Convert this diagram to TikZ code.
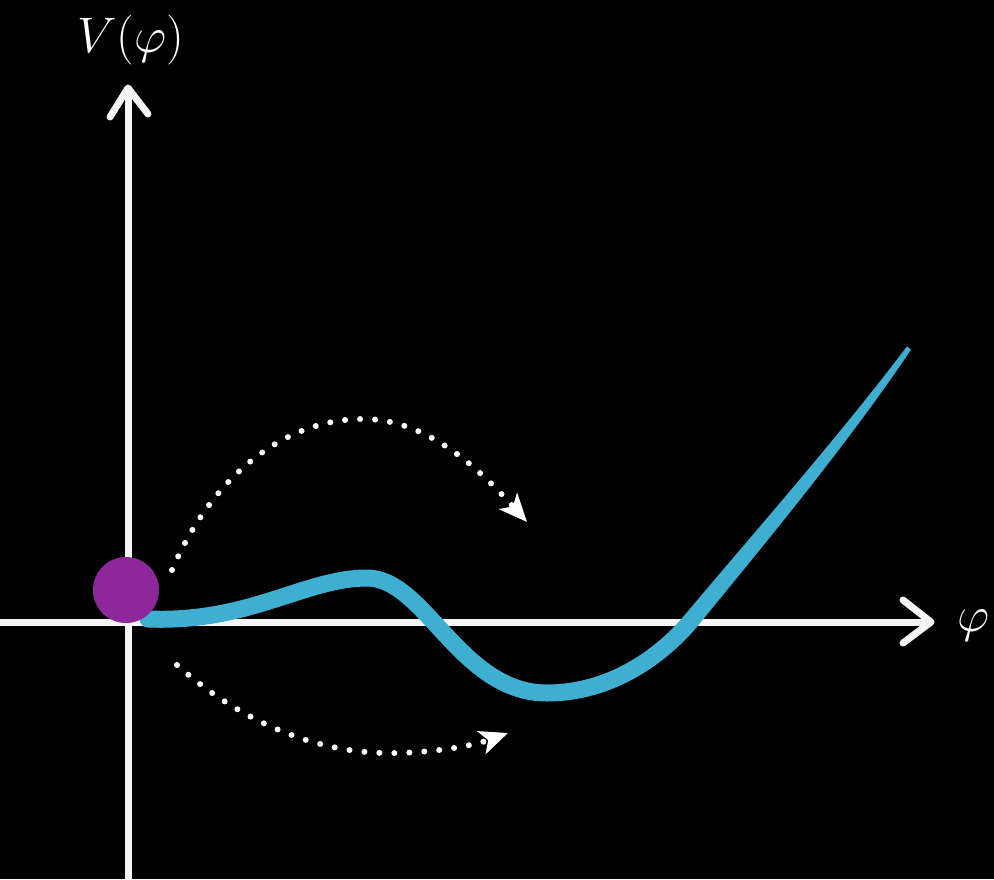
\RequirePackage{fix-cm}
\documentclass[tikz,border=0pt]{standalone}
\usetikzlibrary{arrows.meta}
\definecolor{curvecol}{RGB}{62,175,208}
\definecolor{ballcol}{RGB}{142,40,154}
\definecolor{chalk}{RGB}{245,245,245}
\begin{document}
\begin{tikzpicture}[x=1pt,y=-1pt,
  axisline/.style={draw=chalk,line width=7pt,line cap=round,line join=round},
  dotarc/.style={draw=white,line width=6pt,line cap=round,dash pattern=on 0pt off 15pt,
    -{Stealth[length=28pt,width=24pt,inset=7pt]}},
  potential/.style={draw=curvecol,line cap=round,line join=round},
  lbl/.style={text=white,font=\fontsize{50}{54}\selectfont}]
\fill[black] (0,0) rectangle (994,879);
\useasboundingbox (0,0) rectangle (994,879);
% axes
\coordinate (O) at (128,622);
\coordinate (ytip) at (128,88);
\coordinate (xtip) at (931,622);
\coordinate (ybot) at (128,879);
\coordinate (xleft) at (0,622);
\draw[axisline,line cap=butt] (ybot) -- (ytip);
\draw[axisline,line cap=butt] (xleft) -- (xtip);
\draw[axisline] (110,117) -- (ytip) -- (148,114);
\draw[axisline] (903,600) -- (xtip) -- (903,643);
% labels
\node[lbl] (vlab) at (131,40) {$V(\varphi)$};
\node[lbl] (plab) at (974,626) {$\varphi$};
% potential curve
\coordinate (A) at (148,619);
\coordinate (B) at (367,578);
\coordinate (C) at (547,693);
\coordinate (E) at (690,622);
\draw[potential,line width=17pt] (A) .. controls (250,623) and (305,578) .. (B)
  .. controls (425,578) and (460,693) .. (C)
  .. controls (610,693) and (660,657) .. (E);
% tapered tail
\fill[curvecol] (683.4,616.7) .. controls (738.8,550.0) and (835.3,441.3) .. (907.0,346.4)
  -- (911.0,349.6) .. controls (844.7,448.7) and (751.2,560.0) .. (696.6,627.3) -- cycle;
% dotted arcs
\coordinate (t0) at (172,570);
\coordinate (tp) at (365,419);
\coordinate (t1) at (527,522);
\draw[dotarc] (t0) .. controls (215,470) and (290,418) .. (tp)
  .. controls (430,420) and (482,472) .. (t1);
\coordinate (b0) at (177,665);
\coordinate (bp) at (397,753);
\coordinate (b1) at (508,733);
\draw[dotarc] (b0) .. controls (250,730) and (330,755) .. (bp)
  .. controls (440,752) and (475,745) .. (b1);
% ball
\node[circle,fill=ballcol,minimum size=66pt,inner sep=0pt] (ball) at (126,590) {};
\end{tikzpicture}
\end{document}
